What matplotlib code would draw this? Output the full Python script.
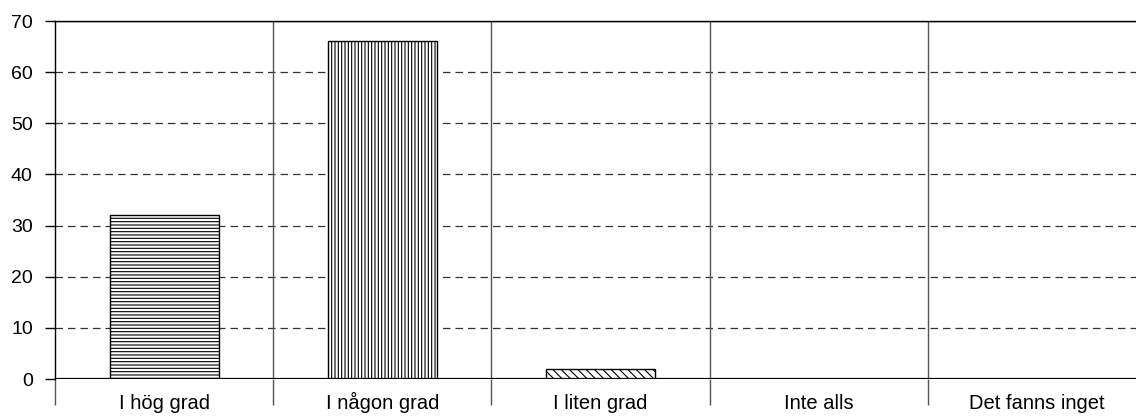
import numpy as np
import matplotlib.pyplot as plt

plt.rcParams['font.family'] = ['Liberation Sans', 'DejaVu Sans']

# Data
categories = ['I hög grad', 'I någon grad', 'I liten grad', 'Inte alls', 'Det fanns inget']
values = [32, 66, 2, 0, 0]
hatches = ['-----', '|||||', '\\\\\\\\', '', '']
y_ticks = [0, 10, 20, 30, 40, 50, 60, 70]

fig = plt.figure(figsize=(11.36, 4.16), dpi=100)
W, H = 1136, 416
ax = fig.add_axes([55 / W, 37 / H, (1146 - 55) / W, (379 - 21) / H])

x = np.arange(len(categories))
plt.rcParams['hatch.linewidth'] = 0.8
for xi, v, h in zip(x, values, hatches):
    if v > 0:
        ax.bar(xi, v, width=0.5, color='white', edgecolor='black',
               linewidth=1.0, hatch=h, zorder=3)

ax.set_xlim(-0.5, len(categories) - 0.5)
ax.set_ylim(0, 70)

# dashed horizontal grid
for yv in y_ticks[1:-1]:
    ax.axhline(yv, color='#333333', linestyle=(0, (6, 4)), linewidth=0.9, zorder=1)
ax.axhline(70, color='black', linewidth=1.0, zorder=2)
ax.axhline(0, color='black', linewidth=1.6, zorder=4)

# category separators
bounds = np.arange(0.5, len(categories) - 0.5, 1)
for b in bounds:
    ax.axvline(b, color='#555555', linewidth=1.0, zorder=1)
ax.set_xticks(np.concatenate([[-0.5], bounds]), minor=True)
ax.tick_params(axis='x', which='minor', length=19, width=1.0, color='#555555', direction='out')
ax.set_xticks(x)
ax.set_xticklabels(categories, fontsize=14.5)
ax.tick_params(axis='x', which='major', length=0, pad=21.5)
for lbl in ax.get_xticklabels():
    lbl.set_verticalalignment('baseline')

ax.set_yticks(y_ticks)
ax.set_yticklabels([str(t) for t in y_ticks], fontsize=14)
ax.tick_params(axis='y', length=7, width=1.0, direction='out', pad=9)

ax.spines['right'].set_visible(False)
ax.spines['left'].set_linewidth(1.0)
ax.spines['top'].set_linewidth(1.0)
ax.spines['bottom'].set_visible(False)

fig.savefig('out.png', dpi=100)
